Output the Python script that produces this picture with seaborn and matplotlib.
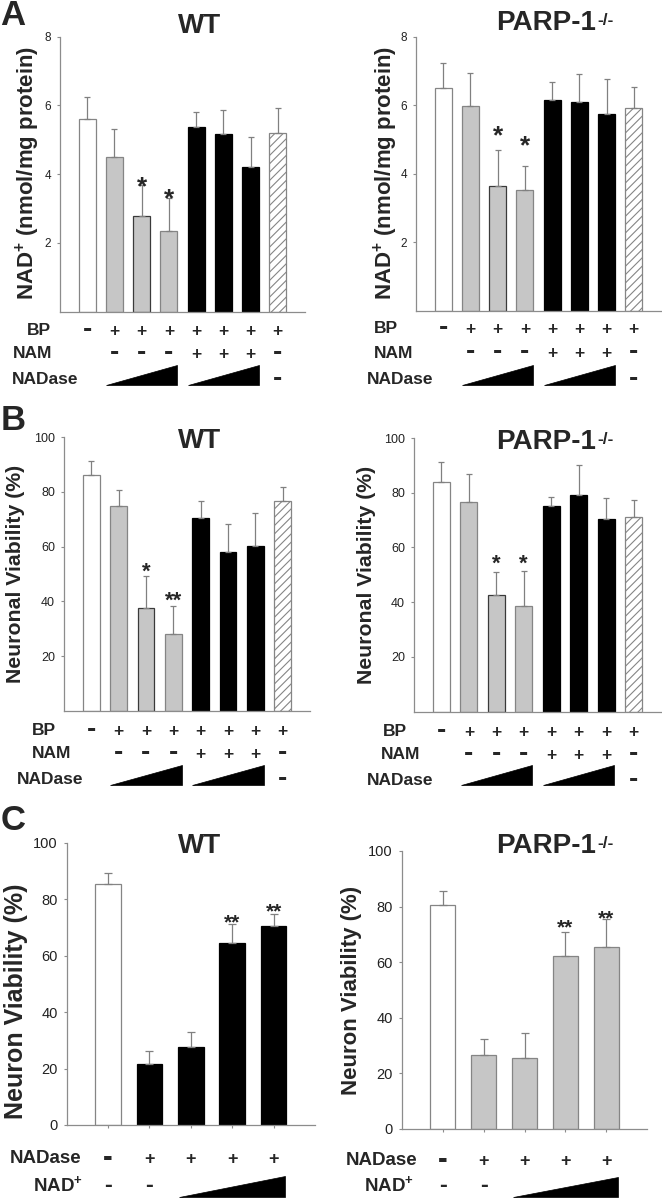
import numpy as np
import pandas as pd
import seaborn as sns
import matplotlib.pyplot as plt
from matplotlib.patches import Polygon
from matplotlib.transforms import blended_transform_factory

W, H = 662, 1199

# conditions, panels A and B (8 bars)
conds_ab = ['Control', 'BP+NADase 1', 'BP+NADase 2', 'BP+NADase 3',
            'BP+NAM+NADase 1', 'BP+NAM+NADase 2', 'BP+NAM+NADase 3', 'BP']
bp_signs = ['-', '+', '+', '+', '+', '+', '+', '+']
nam_signs = ['', '-', '-', '-', '+', '+', '+', '-']
nadase_signs_ab = ['', '', '', '', '', '', '', '-']
nadase_ramps_ab = [(1, 3), (4, 6)]

# A: NAD+ (nmol/mg protein)
a_wt_mean = [5.60, 4.49, 2.77, 2.35, 5.38, 5.17, 4.20, 5.19]
a_wt_sem = [0.64, 0.83, 0.91, 0.95, 0.43, 0.70, 0.89, 0.75]
a_ko_mean = [6.49, 5.98, 3.65, 3.52, 6.15, 6.09, 5.74, 5.93]
a_ko_sem = [0.75, 0.97, 1.04, 0.70, 0.53, 0.82, 1.04, 0.59]
a_wt_stars = ['', '', '*', '*', '', '', '', '']
a_wt_star_y = [0, 0, 3.86, 3.51, 0, 0, 0, 0]
a_ko_stars = ['', '', '*', '*', '', '', '', '']
a_ko_star_y = [0, 0, 5.33, 5.04, 0, 0, 0, 0]

# B: neuronal viability (%)
b_wt_mean = [86.2, 74.7, 37.6, 28.1, 70.4, 58.2, 60.3, 76.5]
b_wt_sem = [5.2, 6.1, 11.5, 10.3, 6.3, 10.0, 11.9, 5.2]
b_ko_mean = [84.0, 76.6, 42.8, 38.7, 75.2, 79.2, 70.4, 71.0]
b_ko_sem = [7.2, 10.1, 8.4, 12.6, 3.2, 11.1, 7.7, 6.3]
b_wt_stars = ['', '', '*', '**', '', '', '', '']
b_wt_star_y = [0, 0, 53.3, 42.7, 0, 0, 0, 0]
b_ko_stars = ['', '', '*', '*', '', '', '', '']
b_ko_star_y = [0, 0, 56.4, 56.4, 0, 0, 0, 0]

# C: neuron viability (%), NADase +/- NAD+
conds_c = ['Control', 'NADase', 'NADase+NAD+ 1', 'NADase+NAD+ 2', 'NADase+NAD+ 3']
nadase_signs_c = ['-', '+', '+', '+', '+']
nad_signs_c = ['-', '-', '', '', '']
nad_ramps_c = [(2, 4)]
c_wt_mean = [85.4, 21.5, 27.5, 64.5, 70.5]
c_wt_sem = [3.9, 4.9, 5.5, 6.7, 4.3]
c_ko_mean = [80.5, 26.7, 25.5, 62.3, 65.4]
c_ko_sem = [5.1, 5.8, 8.9, 8.4, 10.0]
c_wt_stars = ['', '', '', '**', '**']
c_wt_star_y = [0, 0, 0, 74.1, 78.0]
c_ko_stars = ['', '', '', '**', '**']
c_ko_star_y = [0, 0, 0, 74.8, 78.0]

GRAY = '#c6c6c6'
EDGE = '#858585'
PX = 100 / 72  # pixels per point

sns.set_theme(style='white')
plt.rcParams['font.family'] = ['Liberation Sans', 'DejaVu Sans']
plt.rcParams['mathtext.fontset'] = 'custom'
plt.rcParams['mathtext.rm'] = 'Liberation Sans'
plt.rcParams['mathtext.bf'] = 'Liberation Sans:bold'
plt.rcParams['hatch.linewidth'] = 0.8

fig = plt.figure(figsize=(W / 100, H / 100), dpi=100)


def px_axes(l, t, r, b):
    return fig.add_axes([l / W, 1 - b / H, (r - l) / W, (b - t) / H])


def ftext(x, y, s, **kw):
    return fig.text(x / W, 1 - y / H, s, **kw)


def bar_panel(ax, conds, means, sems, fills, edges, hatches, ymax, yticks,
              tsize, capsize, stars, star_y, star_size):
    df = pd.DataFrame({'cond': conds, 'mean': means})
    sns.barplot(data=df, x='cond', y='mean', hue='cond', order=conds,
                hue_order=conds, palette=dict(zip(conds, fills)), legend=False,
                width=0.62, errorbar=None, saturation=1, linewidth=0.9, ax=ax)
    for p, ec, h in zip(sorted(ax.patches, key=lambda p: p.get_x()), edges, hatches):
        p.set_edgecolor(ec)
        p.set_hatch(h)
    n = len(conds)
    ax.errorbar(range(n), means, yerr=[np.zeros(n), sems], fmt='none',
                ecolor='#808080', elinewidth=0.9, capsize=capsize, capthick=0.9)
    for i, (s, y) in enumerate(zip(stars, star_y)):
        if s:
            ax.annotate(s, (i, y), xytext=(0, -0.57 * star_size), textcoords='offset points',
                        ha='center', va='baseline', fontsize=star_size, fontweight='bold',
                        annotation_clip=False)
    ax.set_xlim(-1, n)
    ax.set_ylim(0, ymax)
    ax.set_yticks(yticks)
    ax.set_xlabel('')
    ax.set_ylabel('')
    ax.set_facecolor('none')
    for s in ['top', 'right']:
        ax.spines[s].set_visible(False)
    for s in ['left', 'bottom']:
        ax.spines[s].set_color('#8c8c8c')
        ax.spines[s].set_linewidth(0.9)
    ax.tick_params(axis='y', left=True, direction='out', length=2.5, width=0.8,
                   color='#8c8c8c', labelsize=tsize, labelcolor='#222222', pad=4)


def sign_row(ax, yc, signs, size, dash_scale=1.6):
    # yc: visual centre of the row, in figure pixels from the top
    tr = blended_transform_factory(ax.transData, fig.transFigure)
    for i, s in enumerate(signs):
        if s == '+':
            fs = size
            base = yc + 0.35 * fs * PX
        elif s == '-':
            fs = size * dash_scale
            base = yc + 0.265 * fs * PX
        else:
            continue
        ax.text(i, 1 - base / H, s, transform=tr, ha='center', va='baseline',
                fontsize=fs, fontweight='bold', clip_on=False)


def ramps(ax, y_bot, y_top, spans, pad):
    tr = blended_transform_factory(ax.transData, fig.transFigure)
    for a, b in spans:
        poly = Polygon([(a - pad, 1 - y_bot / H), (b + pad, 1 - y_bot / H),
                        (b + pad, 1 - y_top / H)], closed=True, transform=tr,
                       facecolor='black', edgecolor='black', linewidth=0.5)
        fig.add_artist(poly)


def ko_title(x, y, size):
    t = ftext(x, y, 'PARP-1', fontsize=size, fontweight='bold', ha='left', va='baseline')
    fig.canvas.draw()
    bb = t.get_window_extent()
    ftext(bb.x1 + 1, y - 5, '-/-', fontsize=12.5, fontweight='bold',
          ha='left', va='baseline')


fills_ab = ['white', GRAY, GRAY, GRAY, 'black', 'black', 'black', 'white']
edges_ab = [EDGE, EDGE, '#3a3a3a', EDGE, 'black', 'black', 'black', EDGE]
hatch_ab = ['', '', '', '', '', '', '', '////']

# ---------- panel A ----------
ax = px_axes(60, 36.7, 305, 311.7)
bar_panel(ax, conds_ab, a_wt_mean, a_wt_sem, fills_ab, edges_ab, hatch_ab, 8,
          [2, 4, 6, 8], 8.5, 2.5, a_wt_stars, a_wt_star_y, 19)
ax.set_xticks([])
sign_row(ax, 330, bp_signs, 12.5)
sign_row(ax, 353, nam_signs, 12.5)
sign_row(ax, 379, nadase_signs_ab, 12.5)
ramps(ax, 385, 365, nadase_ramps_ab, 0.3)
ftext(27, 335, 'BP', fontsize=12.5, fontweight='bold')
ftext(13, 358, 'NAM', fontsize=12.5, fontweight='bold')
ftext(12, 384, 'NADase', fontsize=12.5, fontweight='bold')
ftext(28, 173, r'NAD$^{\mathbf{+}}$ (nmol/mg protein)', fontsize=16, fontweight='bold',
      rotation=90, ha='center', va='center')
ftext(200, 33, 'WT', fontsize=20, fontweight='bold', ha='center', va='baseline')
ftext(0, 25, 'A', fontsize=25, fontweight='bold', ha='left', va='baseline')

ax = px_axes(416, 36.7, 661, 311)
bar_panel(ax, conds_ab, a_ko_mean, a_ko_sem, fills_ab, edges_ab, hatch_ab, 8,
          [2, 4, 6, 8], 8.5, 2.5, a_ko_stars, a_ko_star_y, 19)
ax.set_xticks([])
sign_row(ax, 328, bp_signs, 12.5)
sign_row(ax, 352, nam_signs, 12.5)
sign_row(ax, 379, nadase_signs_ab, 12.5)
ramps(ax, 385, 365, nadase_ramps_ab, 0.3)
ftext(374, 333, 'BP', fontsize=12.5, fontweight='bold')
ftext(374, 358, 'NAM', fontsize=12.5, fontweight='bold')
ftext(367, 384, 'NADase', fontsize=12.5, fontweight='bold')
ftext(386, 173, r'NAD$^{\mathbf{+}}$ (nmol/mg protein)', fontsize=16, fontweight='bold',
      rotation=90, ha='center', va='center')
ko_title(496, 30, 20)

# ---------- panel B ----------
ax = px_axes(64, 437, 310, 711)
bar_panel(ax, conds_ab, b_wt_mean, b_wt_sem, fills_ab, edges_ab, hatch_ab, 100,
          [20, 40, 60, 80, 100], 9, 2.5, b_wt_stars, b_wt_star_y, 16)
ax.set_xticks([])
sign_row(ax, 730, bp_signs, 12.5)
sign_row(ax, 753, nam_signs, 12.5)
sign_row(ax, 779, nadase_signs_ab, 12.5)
ramps(ax, 785, 765, nadase_ramps_ab, 0.3)
ftext(32, 735, 'BP', fontsize=12.5, fontweight='bold')
ftext(32, 758, 'NAM', fontsize=12.5, fontweight='bold')
ftext(17, 784, 'NADase', fontsize=12.5, fontweight='bold')
ftext(16, 574, 'Neuronal Viability (%)', fontsize=15.3, fontweight='bold',
      rotation=90, ha='center', va='center')
ftext(200, 448, 'WT', fontsize=20, fontweight='bold', ha='center', va='baseline')
ftext(1, 430, 'B', fontsize=25, fontweight='bold', ha='left', va='baseline')

ax = px_axes(414, 438, 661, 711.7)
bar_panel(ax, conds_ab, b_ko_mean, b_ko_sem, fills_ab, edges_ab, hatch_ab, 100,
          [20, 40, 60, 80, 100], 9, 2.5, b_ko_stars, b_ko_star_y, 16)
ax.set_xticks([])
sign_row(ax, 731, bp_signs, 12.5)
sign_row(ax, 754, nam_signs, 12.5)
sign_row(ax, 780, nadase_signs_ab, 12.5)
ramps(ax, 785, 765, nadase_ramps_ab, 0.3)
ftext(383, 736, 'BP', fontsize=12.5, fontweight='bold')
ftext(381, 759, 'NAM', fontsize=12.5, fontweight='bold')
ftext(367, 785, 'NADase', fontsize=12.5, fontweight='bold')
ftext(367, 575, 'Neuronal Viability (%)', fontsize=15.3, fontweight='bold',
      rotation=90, ha='center', va='center')
ko_title(496, 449, 20)

# ---------- panel C ----------
fills_wt_c = ['white', 'black', 'black', 'black', 'black']
edges_wt_c = [EDGE, 'black', 'black', 'black', 'black']
fills_ko_c = ['white', GRAY, GRAY, GRAY, GRAY]
edges_ko_c = [EDGE, EDGE, EDGE, EDGE, EDGE]
hatch_c = ['', '', '', '', '']

ax = px_axes(66.7, 843, 315, 1125)
bar_panel(ax, conds_c, c_wt_mean, c_wt_sem, fills_wt_c, edges_wt_c, hatch_c, 100,
          [0, 20, 40, 60, 80, 100], 10.5, 3, c_wt_stars, c_wt_star_y, 15)
ax.tick_params(axis='x', bottom=True, direction='out', length=2.5, width=0.8,
               color='#8c8c8c', labelbottom=False)
sign_row(ax, 1158, nadase_signs_c, 13)
sign_row(ax, 1186, nad_signs_c, 13, dash_scale=1.3)
ramps(ax, 1197, 1176, nad_ramps_c, 0.28)
ftext(10, 1163, 'NADase', fontsize=13.5, fontweight='bold')
ftext(33, 1192, r'NAD$^{\mathbf{+}}$', fontsize=13.5, fontweight='bold')
ftext(16, 1001, 'Neuron Viability (%)', fontsize=18, fontweight='bold',
      rotation=90, ha='center', va='center')
ftext(200, 853, 'WT', fontsize=20, fontweight='bold', ha='center', va='baseline')
ftext(1, 830, 'C', fontsize=25, fontweight='bold', ha='left', va='baseline')

ax = px_axes(402, 851, 647, 1129)
bar_panel(ax, conds_c, c_ko_mean, c_ko_sem, fills_ko_c, edges_ko_c, hatch_c, 100,
          [0, 20, 40, 60, 80, 100], 10.5, 3, c_ko_stars, c_ko_star_y, 15)
ax.tick_params(axis='x', bottom=True, direction='out', length=2.5, width=0.8,
               color='#8c8c8c', labelbottom=False)
sign_row(ax, 1160, nadase_signs_c, 13)
sign_row(ax, 1186, nad_signs_c, 13, dash_scale=1.3)
ramps(ax, 1197, 1177, nad_ramps_c, 0.28)
ftext(346, 1165, 'NADase', fontsize=13.5, fontweight='bold')
ftext(364, 1192, r'NAD$^{\mathbf{+}}$', fontsize=13.5, fontweight='bold')
ftext(351, 990, 'Neuron Viability (%)', fontsize=16, fontweight='bold',
      rotation=90, ha='center', va='center')
ko_title(496, 853, 20)

fig.savefig('out.png', dpi=100, facecolor='white')
